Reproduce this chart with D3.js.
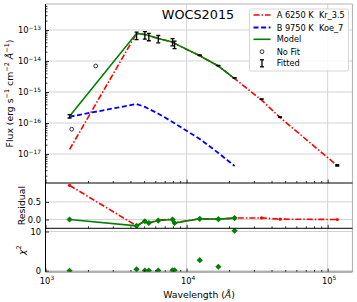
<!DOCTYPE html>
<html>
<head>
<meta charset="utf-8">
<script src="https://cdn.jsdelivr.net/npm/d3@7"></script>
<style>
  body { margin: 0; background: #fff; }
  text { font-family: "DejaVu Sans", sans-serif; fill: #000; }
</style>
</head>
<body>
<svg id="chart" width="357" height="302"></svg>
<script>
// ---- data ----
const title = "WOCS2015";
const wavelength = [1481, 4420, 5060, 5400, 6300, 7950, 8220, 12400, 16800, 21900, 34000, 46000, 117000];
const fluxObs = [1.65e-16, 6.7e-14, 6.95e-14, 6.15e-14, 5.25e-14, 4.18e-14, 3.45e-14, 1.53e-14, 7.1e-15, 2.85e-15, 5.9e-16, 1.55e-16, 4.3e-18];
const fluxErr = [2.0e-17, 1.8e-14, 1.9e-14, 1.65e-14, 1.4e-14, 1.1e-14, 0.95e-14, 3e-16, 1.4e-16, 6e-17, 1.2e-17, 3e-18, 2e-19];
const noFitWave = [1534, 2270];
const noFitFlux = [6.3e-17, 6.9e-15];
// component A over all points, B and the model over the first ten
const fluxA = [1.4e-17, 7.75e-14, 7.1e-14, 6.6e-14, 5.28e-14, 4.09e-14, 3.69e-14, 1.48e-14, 6.9e-15, 2.7e-15, 5.5e-16, 1.5e-16, 4.2e-18];
const fluxB = [1.6e-16, 4.1e-16, 3.3e-16, 2.85e-16, 2.0e-16, 1.08e-16, 9.8e-17, 3.05e-17, 1.08e-17, 4.1e-18];
const fluxModel = [1.65e-16, 7.8e-14, 7.15e-14, 6.65e-14, 5.3e-14, 4.1e-14, 3.7e-14, 1.48e-14, 6.9e-15, 2.7e-15];
const residA = [0.97, -0.18, -0.04, -0.09, -0.02, 0.01, -0.09, 0.02, 0.01, 0.04, 0.045, 0.01, 0.0];
const residModel = [0.0, -0.18, -0.05, -0.1, -0.03, 0.0, -0.1, 0.02, 0.01, 0.04];
const chi2 = [0.0, 0.35, 0.05, 0.05, 0.05, 0.1, 0.1, 2.7, 1.0, 10.2];
const legendLabels = ["A 6250 K  Kr_3.5", "B 9750 K  Koe_7", "Model", "No Fit", "Fitted"];

const COLORS = { A: "#ff0000", B: "#0000ff", model: "#008000", grid: "#d3d3d3" };

const svg = d3.select("#chart");
const X0 = 45.5, X1 = 352.5;
const x = d3.scaleLog().domain([1000, 150000]).range([X0, X1]);
const yMain = d3.scaleLog().domain([1.16e-18, 6.9e-13]).range([183, 4]);
const yRes = d3.scaleLinear().domain([-0.25, 1.037]).range([228.3, 183]);
const yChi = d3.scaleLinear().domain([-0.33, 10.82]).range([272, 228.3]);

const panels = [
  { id: "main", y: yMain, top: 4, bottom: 183 },
  { id: "res", y: yRes, top: 183, bottom: 228.3 },
  { id: "chi", y: yChi, top: 228.3, bottom: 272 }
];

const defs = svg.append("defs");
panels.forEach(p => {
  defs.append("clipPath").attr("id", "clip-" + p.id)
    .append("rect").attr("x", X0).attr("y", p.top).attr("width", X1 - X0).attr("height", p.bottom - p.top);
});

// ---- grids ----
const grid = svg.append("g").attr("stroke", COLORS.grid).attr("stroke-width", 1);
[1e4, 1e5].forEach(v => {
  grid.append("line").attr("x1", x(v)).attr("x2", x(v)).attr("y1", 4).attr("y2", 272);
});
const mainMajor = [1e-17, 1e-16, 1e-15, 1e-14, 1e-13];
mainMajor.forEach(v => grid.append("line").attr("x1", X0).attr("x2", X1).attr("y1", yMain(v)).attr("y2", yMain(v)));
[0, 0.5].forEach(v => grid.append("line").attr("x1", X0).attr("x2", X1).attr("y1", yRes(v)).attr("y2", yRes(v)));
[0, 10].forEach(v => grid.append("line").attr("x1", X0).attr("x2", X1).attr("y1", yChi(v)).attr("y2", yChi(v)));

// ---- main panel ----
const gMain = svg.append("g").attr("clip-path", "url(#clip-main)");
const lineMain = d3.line().x(d => x(d[0])).y(d => yMain(d[1]));
gMain.append("path")
  .datum(wavelength.map((w, i) => [w, fluxA[i]]))
  .attr("d", lineMain).attr("fill", "none")
  .attr("stroke", COLORS.A).attr("stroke-width", 1.6).attr("stroke-dasharray", "6,2,1.5,2");
gMain.append("path")
  .datum(fluxB.map((f, i) => [wavelength[i], f]))
  .attr("d", lineMain).attr("fill", "none")
  .attr("stroke", COLORS.B).attr("stroke-width", 1.8).attr("stroke-dasharray", "5,2.6");
gMain.append("path")
  .datum(fluxModel.map((f, i) => [wavelength[i], f]))
  .attr("d", lineMain).attr("fill", "none")
  .attr("stroke", COLORS.model).attr("stroke-width", 1.6);

// error bars
const eb = gMain.append("g").attr("stroke", "#000").attr("stroke-width", 1.3);
wavelength.forEach((w, i) => {
  const cx = x(w);
  const yt = yMain(fluxObs[i] + fluxErr[i]);
  const yb = yMain(fluxObs[i] - fluxErr[i]);
  eb.append("line").attr("x1", cx).attr("x2", cx).attr("y1", yt).attr("y2", yb);
  eb.append("line").attr("x1", cx - 2).attr("x2", cx + 2).attr("y1", yt).attr("y2", yt);
  eb.append("line").attr("x1", cx - 2).attr("x2", cx + 2).attr("y1", yb).attr("y2", yb);
});
gMain.selectAll("circle.nofit")
  .data(noFitWave.map((w, i) => [w, noFitFlux[i]]))
  .enter().append("circle")
  .attr("cx", d => x(d[0])).attr("cy", d => yMain(d[1])).attr("r", 1.9)
  .attr("fill", "none").attr("stroke", "#000").attr("stroke-width", 0.8);

svg.append("text").attr("x", 198).attr("y", 18.5).attr("text-anchor", "middle")
  .attr("font-size", 12.8).text(title);

// ---- residual panel ----
const gRes = svg.append("g").attr("clip-path", "url(#clip-res)");
const lineRes = d3.line().x(d => x(d[0])).y(d => yRes(d[1]));
gRes.append("path")
  .datum(wavelength.map((w, i) => [w, residA[i]]))
  .attr("d", lineRes).attr("fill", "none")
  .attr("stroke", COLORS.A).attr("stroke-width", 1.6).attr("stroke-dasharray", "6,2,1.5,2");
gRes.selectAll("circle.ra")
  .data(wavelength.map((w, i) => [w, residA[i]]))
  .enter().append("circle")
  .attr("cx", d => x(d[0])).attr("cy", d => yRes(d[1])).attr("r", 1.6).attr("fill", COLORS.A);
gRes.append("path")
  .datum(residModel.map((r, i) => [wavelength[i], r]))
  .attr("d", lineRes).attr("fill", "none")
  .attr("stroke", COLORS.model).attr("stroke-width", 1.6);
const diamond = d3.symbol().type(d3.symbolSquare).size(19);
gRes.selectAll("path.rm")
  .data(residModel.map((r, i) => [wavelength[i], r]))
  .enter().append("path")
  .attr("d", diamond)
  .attr("transform", d => `translate(${x(d[0])},${yRes(d[1])}) rotate(45)`)
  .attr("fill", COLORS.model);

// ---- chi2 panel ----
const gChi = svg.append("g").attr("clip-path", "url(#clip-chi)");
gChi.selectAll("path.chi")
  .data(chi2.map((c, i) => [wavelength[i], c]))
  .enter().append("path")
  .attr("d", diamond)
  .attr("transform", d => `translate(${x(d[0])},${yChi(d[1])}) rotate(45)`)
  .attr("fill", COLORS.model);

// ---- axes / ticks ----
const xMinor = [];
[1e3, 1e4, 1e5].forEach(b => { for (let k = 2; k <= 9; k++) if (b * k < 150000) xMinor.push(b * k); });
panels.forEach(p => {
  const g = svg.append("g").attr("transform", `translate(0,${p.bottom})`);
  g.call(d3.axisBottom(x).tickValues([1e3, 1e4, 1e5]).tickSize(-3.5).tickFormat(""));
  g.append("g").call(d3.axisBottom(x).tickValues(xMinor).tickSize(-2).tickFormat(""));
  g.selectAll(".domain").remove();
  g.selectAll("line").attr("stroke", "#000").attr("stroke-width", 0.8);
});

// y axes
const yMinor = [];
for (let e = -18; e <= -13; e++) for (let k = 2; k <= 9; k++) {
  const v = k * Math.pow(10, e);
  if (v > 1.16e-18 && v < 6.9e-13) yMinor.push(v);
}
function yAxis(scale, major, minor) {
  const g = svg.append("g").attr("transform", `translate(${X0},0)`);
  g.call(d3.axisLeft(scale).tickValues(major).tickSize(-3.5).tickFormat(""));
  if (minor) g.append("g").call(d3.axisLeft(scale).tickValues(minor).tickSize(-2).tickFormat(""));
  g.selectAll(".domain").remove();
  g.selectAll("line").attr("stroke", "#000").attr("stroke-width", 0.8);
}
yAxis(yMain, mainMajor, yMinor);
yAxis(yRes, [0, 0.5]);
yAxis(yChi, [0, 10]);

// spines
const sp = svg.append("g").attr("fill", "none");
sp.append("line").attr("x1", X0).attr("x2", X1).attr("y1", 4).attr("y2", 4).attr("stroke", "#b5b5b5").attr("stroke-width", 1);
sp.append("line").attr("x1", X1).attr("x2", X1).attr("y1", 4).attr("y2", 272).attr("stroke", "#b5b5b5").attr("stroke-width", 1.2);
sp.append("line").attr("x1", X0).attr("x2", X0).attr("y1", 4).attr("y2", 272).attr("stroke", "#000").attr("stroke-width", 1);
sp.append("line").attr("x1", X0).attr("x2", X1).attr("y1", 183).attr("y2", 183).attr("stroke", "#000").attr("stroke-width", 1);
sp.append("line").attr("x1", X0).attr("x2", X1).attr("y1", 228.3).attr("y2", 228.3).attr("stroke", "#000").attr("stroke-width", 1);
sp.append("line").attr("x1", X0).attr("x2", X1).attr("y1", 272).attr("y2", 272).attr("stroke", "#666").attr("stroke-width", 1);

// tick labels
const FS = 8.3, SUP = 5.9;
function powLabel(parent, px, py, exp, anchor) {
  const t = parent.append("text").attr("x", px).attr("y", py).attr("text-anchor", anchor).attr("font-size", FS);
  t.append("tspan").text("10");
  t.append("tspan").attr("dy", -3.6).attr("font-size", SUP).text(exp);
  return t;
}
mainMajor.forEach(v => {
  const e = Math.round(Math.log10(v));
  powLabel(svg, 41, yMain(v) + 3.3, "\u2212" + Math.abs(e), "end");
});
[0, 0.5].forEach(v => svg.append("text").attr("x", 41).attr("y", yRes(v) + 3).attr("text-anchor", "end")
  .attr("font-size", FS).text(d3.format(".1f")(v)));
[0, 10].forEach(v => svg.append("text").attr("x", 41).attr("y", yChi(v) + 3).attr("text-anchor", "end")
  .attr("font-size", FS).text(v));
[[1e3, "3"], [1e4, "4"], [1e5, "5"]].forEach(([v, e]) => {
  powLabel(svg, x(v) + 1.5, 284, e, "middle");
});

// axis labels
const AX = 9.3;
const xl = svg.append("text").attr("x", 199).attr("y", 298).attr("text-anchor", "middle").attr("font-size", AX);
xl.append("tspan").text("Wavelength (");
xl.append("tspan").attr("font-style", "italic").text("Å");
xl.append("tspan").text(")");

const yl = svg.append("text").attr("transform", "translate(12.5,93.5) rotate(-90)")
  .attr("text-anchor", "middle").attr("font-size", AX);
yl.append("tspan").text("Flux (erg s");
yl.append("tspan").attr("dy", -3.6).attr("font-size", 6.5).text("\u22121");
yl.append("tspan").attr("dy", 3.6).text(" cm");
yl.append("tspan").attr("dy", -3.6).attr("font-size", 6.5).text("\u22122");
yl.append("tspan").attr("dy", 3.6).attr("font-style", "italic").text(" Å");
yl.append("tspan").attr("dy", -3.6).attr("font-size", 6.5).text("\u22121");
yl.append("tspan").attr("dy", 3.6).text(")");

svg.append("text").attr("transform", `translate(24.5,${(183 + 228.3) / 2}) rotate(-90)`)
  .attr("text-anchor", "middle").attr("font-size", AX).text("Residual");
const cl = svg.append("text").attr("transform", `translate(24.5,${(228.3 + 272) / 2}) rotate(-90)`)
  .attr("text-anchor", "middle").attr("font-size", AX);
cl.append("tspan").attr("font-style", "italic").text("χ");
cl.append("tspan").attr("dy", -3.6).attr("font-size", 6.5).text("2");

// ---- legend ----
const lg = svg.append("g").attr("transform", "translate(249.5,9)");
lg.append("rect").attr("width", 99).attr("height", 62).attr("rx", 2)
  .attr("fill", "#fff").attr("fill-opacity", 0.85).attr("stroke", "#cccccc").attr("stroke-width", 0.8);
const rowY = [6, 18.5, 30.3, 42.7, 54.3];
const hx0 = 4, hx1 = 21, tx = 27.2;
lg.append("line").attr("x1", hx0).attr("x2", hx1).attr("y1", rowY[0]).attr("y2", rowY[0])
  .attr("stroke", COLORS.A).attr("stroke-width", 1.6).attr("stroke-dasharray", "6,2,1.5,2");
lg.append("line").attr("x1", hx0).attr("x2", hx1).attr("y1", rowY[1]).attr("y2", rowY[1])
  .attr("stroke", COLORS.B).attr("stroke-width", 1.8).attr("stroke-dasharray", "5,2.6");
lg.append("line").attr("x1", hx0).attr("x2", hx1).attr("y1", rowY[2]).attr("y2", rowY[2])
  .attr("stroke", COLORS.model).attr("stroke-width", 1.6);
lg.append("circle").attr("cx", (hx0 + hx1) / 2).attr("cy", rowY[3]).attr("r", 1.9)
  .attr("fill", "none").attr("stroke", "#000").attr("stroke-width", 0.8);
const ic = (hx0 + hx1) / 2;
lg.append("line").attr("x1", ic).attr("x2", ic).attr("y1", rowY[4] - 3.5).attr("y2", rowY[4] + 3.5).attr("stroke", "#000").attr("stroke-width", 1.3);
lg.append("line").attr("x1", ic - 2).attr("x2", ic + 2).attr("y1", rowY[4] - 3.5).attr("y2", rowY[4] - 3.5).attr("stroke", "#000").attr("stroke-width", 1.3);
lg.append("line").attr("x1", ic - 2).attr("x2", ic + 2).attr("y1", rowY[4] + 3.5).attr("y2", rowY[4] + 3.5).attr("stroke", "#000").attr("stroke-width", 1.3);
legendLabels.forEach((s, i) => {
  lg.append("text").attr("x", tx).attr("y", rowY[i] + 3).attr("font-size", 8.2)
    .style("white-space", "pre").text(s);
});
</script>
</body>
</html>
